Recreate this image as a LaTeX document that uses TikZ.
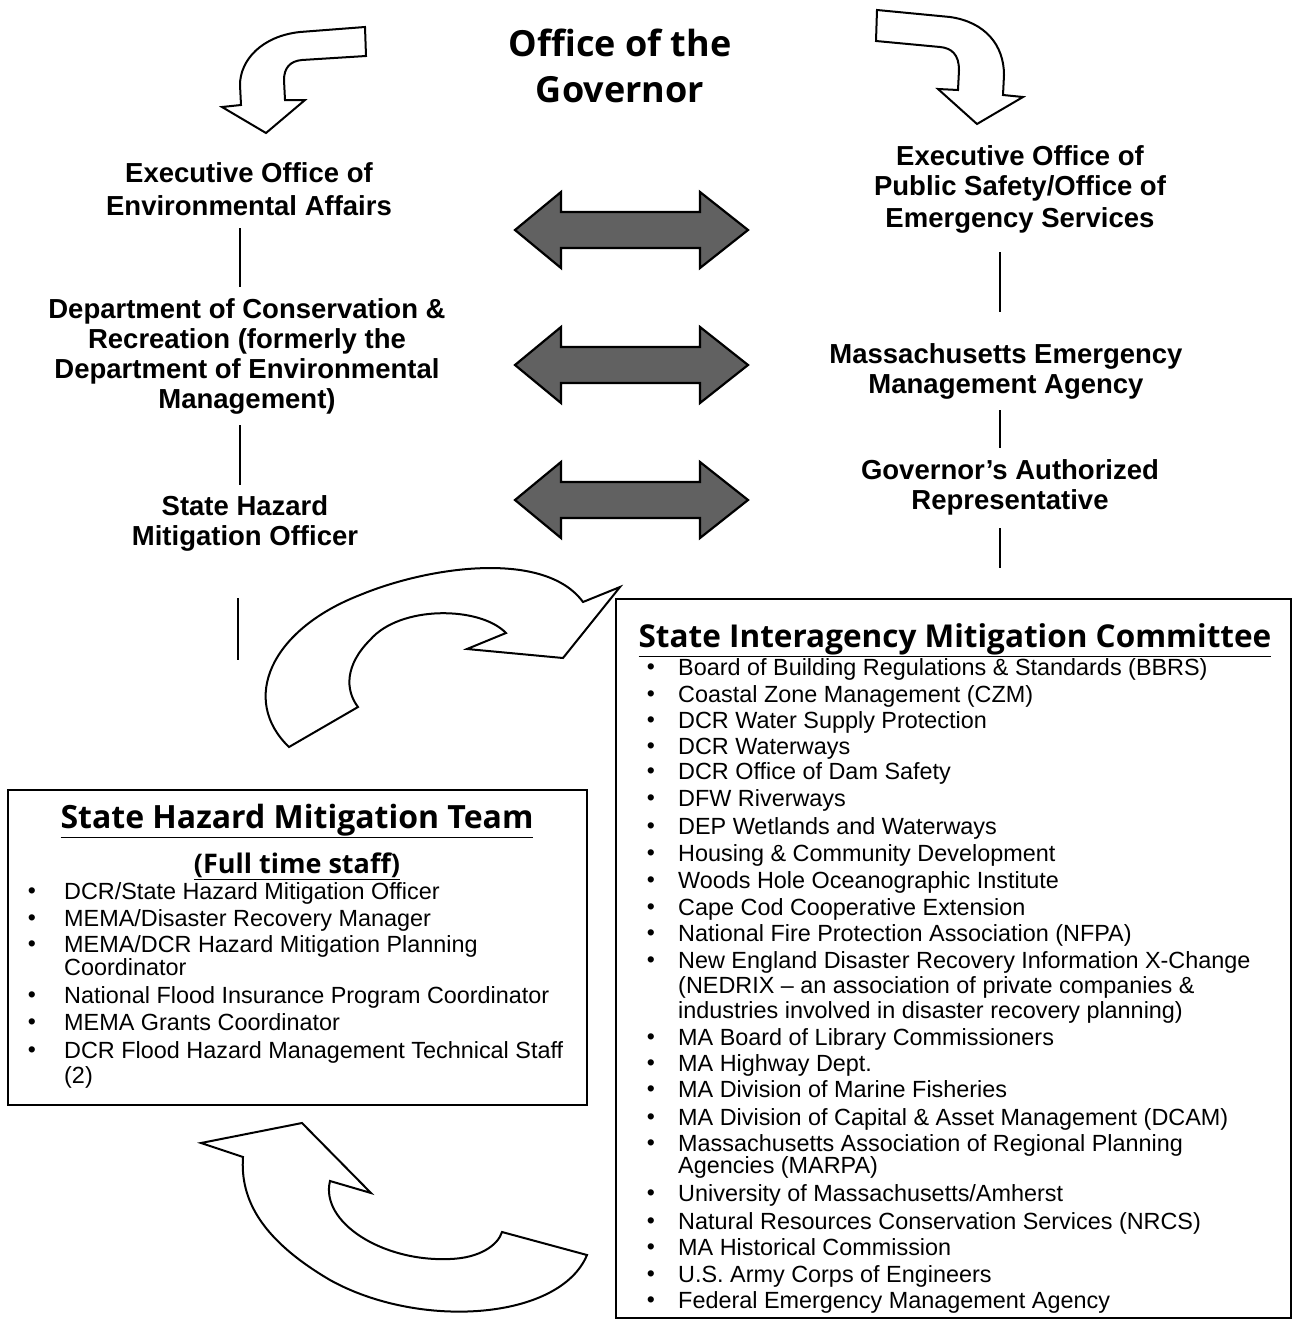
\documentclass[tikz,border=0pt]{standalone}
\usepackage{fontspec}
\setmainfont{Liberation Sans}
\newfontfamily\titlefont{Open Sans}
\begin{document}
\begin{tikzpicture}[x=1pt,y=-1pt,
  head/.style={font=\bfseries\fontsize{27.5}{30}\selectfont, align=center, inner sep=0},
  ttl/.style={font=\titlefont\bfseries\fontsize{36}{46}\selectfont, align=center, inner sep=0},
  boxttl/.style={font=\titlefont\bfseries\fontsize{32}{34}\selectfont, inner sep=0},
  li/.style={font=\fontsize{23.4}{25}\selectfont, anchor=west, inner sep=0, text height=16, text depth=4},
  bul/.style={font=\fontsize{23}{25}\selectfont, inner sep=0},
  framebox/.style={draw, line width=1.6},
  dblarrow/.style={draw, line width=2.2, fill=black!62, line join=miter},
  curarrow/.style={draw, line width=2, fill=white, line join=miter},
  vline/.style={line width=1.2}]
\useasboundingbox (0,0) rectangle (1293,1325);

% title
\node[ttl] (gov) at (620,66) {Office of the\\Governor};

% left column
\node[head] (eoea) at (249,189) {Executive Office of\\[3pt]Environmental Affairs};
\node[head] (dcr) at (247,356) {Department of Conservation \&\\Recreation (formerly the\\Department of Environmental\\Management)};
\node[head] (shmo) at (245,523) {State Hazard\\Mitigation Officer};
\coordinate (l1a) at (240,228); \coordinate (l1b) at (240,287);
\coordinate (l2a) at (240,425); \coordinate (l2b) at (240,485);
\coordinate (l3a) at (238,598); \coordinate (l3b) at (238,660);
\draw[vline] (l1a) -- (l1b);
\draw[vline] (l2a) -- (l2b);
\draw[vline] (l3a) -- (l3b);

% right column
\node[head] (eops) at (1020,189) {Executive Office of\\Public Safety/Office of\\[2pt]Emergency Services};
\node[head] (mema) at (1006,371) {Massachusetts Emergency\\Management Agency};
\node[head] (gar) at (1010,487) {Governor’s Authorized\\Representative};
\coordinate (r1a) at (1000,252); \coordinate (r1b) at (1000,312);
\coordinate (r2a) at (1000,410); \coordinate (r2b) at (1000,448);
\coordinate (r3a) at (1000,528); \coordinate (r3b) at (1000,568);
\draw[vline] (r1a) -- (r1b);
\draw[vline] (r2a) -- (r2b);
\draw[vline] (r3a) -- (r3b);

% double arrows
\foreach \cy in {230,365,500}{
  \draw[dblarrow] (515,\cy) -- (561,\cy-38) -- (561,\cy-18) -- (700,\cy-18) -- (700,\cy-38)
    -- (748,\cy) -- (700,\cy+38) -- (700,\cy+18) -- (561,\cy+18) -- (561,\cy+38) -- cycle;
}

% curved arrows from governor
\draw[curarrow] (365,27) -- (300,32) .. controls (262,36) and (240,60) .. (240,85) -- (241,105)
  -- (222,107) -- (266,133) -- (305,100) -- (285,100) -- (284,80)
  .. controls (284,68) and (290,61) .. (302,60) -- (366,56) -- cycle;
\draw[curarrow] (877,10) -- (950,17) .. controls (985,22) and (1004,45) .. (1004,75) -- (1003,95)
  -- (1023,97) -- (977,124) -- (938,89) -- (958,90) -- (959,70)
  .. controls (959,55) and (952,48) .. (940,47) -- (876,41) -- cycle;

% boxes
\draw[framebox] (616,599) rectangle (1291,1318);
\draw[framebox] (8,790) rectangle (587,1105);

% middle curved arrow
\draw[curarrow] (289,747) .. controls (240,700) and (270,630) .. (360,595)
  .. controls (430,566) and (545,550) .. (583,602) -- (620,587) -- (563,658) -- (467,649) -- (506,633)
  .. controls (480,606) and (400,605) .. (370,640) .. controls (345,665) and (345,690) .. (358,707) -- cycle;

% bottom curved arrow
\draw[curarrow] (587,1255) .. controls (560,1320) and (420,1330) .. (330,1280)
  .. controls (262,1240) and (240,1200) .. (243,1157) -- (201,1143) -- (302,1123) -- (371,1193) -- (330,1181)
  .. controls (320,1222) and (382,1262) .. (450,1259) .. controls (480,1258) and (498,1245) .. (502,1232) -- cycle;

% left box content
\node[boxttl] (shmt) at (297,821) {\underline{State Hazard Mitigation Team}};
\node[boxttl, font=\titlefont\bfseries\fontsize{27}{30}\selectfont] (fts) at (297,866) {\underline{(Full time staff)}};
\foreach \yy [count=\k] in {893,920,946,997,1024,1052}{
  \node[bul] (lb\k) at (32,\yy) {•};
}
\foreach \yy/\txt [count=\k] in {893/{DCR/State Hazard Mitigation Officer},
  920/{MEMA/Disaster Recovery Manager},
  946/{MEMA/DCR Hazard Mitigation Planning},
  969/{Coordinator},
  997/{National Flood Insurance Program Coordinator},
  1024/{MEMA Grants Coordinator},
  1052/{DCR Flood Hazard Management Technical Staff},
  1077/{(2)}}{
  \node[li] (lt\k) at (64,\yy) {\txt};
}

% right box content
\node[boxttl, font=\titlefont\bfseries\fontsize{31.5}{34}\selectfont] (simc) at (955,640) {\underline{State Interagency Mitigation Committee}};
\foreach \yy [count=\k] in {669,696,722,748,773,800,828,855,882,909,935,962,1039,1065,1091,1119,1145,1195,1223,1249,1276,1302}{
  \node[bul] (rb\k) at (651,\yy) {•};
}
\foreach \yy/\txt [count=\k] in {669/{Board of Building Regulations \& Standards (BBRS)},
  696/{Coastal Zone Management (CZM)},
  722/{DCR Water Supply Protection},
  748/{DCR Waterways},
  773/{DCR Office of Dam Safety},
  800/{DFW Riverways},
  828/{DEP Wetlands and Waterways},
  855/{Housing \& Community Development},
  882/{Woods Hole Oceanographic Institute},
  909/{Cape Cod Cooperative Extension},
  935/{National Fire Protection Association (NFPA)},
  962/{New England Disaster Recovery Information X-Change},
  987/{(NEDRIX – an association of private companies \&},
  1012/{industries involved in disaster recovery planning)},
  1039/{MA Board of Library Commissioners},
  1065/{MA Highway Dept.},
  1091/{MA Division of Marine Fisheries},
  1119/{MA Division of Capital \& Asset Management (DCAM)},
  1145/{Massachusetts Association of Regional Planning},
  1167/{Agencies (MARPA)},
  1195/{University of Massachusetts/Amherst},
  1223/{Natural Resources Conservation Services (NRCS)},
  1249/{MA Historical Commission},
  1276/{U.S. Army Corps of Engineers},
  1302/{Federal Emergency Management Agency}}{
  \node[li] (rt\k) at (678,\yy) {\txt};
}
\end{tikzpicture}
\end{document}
